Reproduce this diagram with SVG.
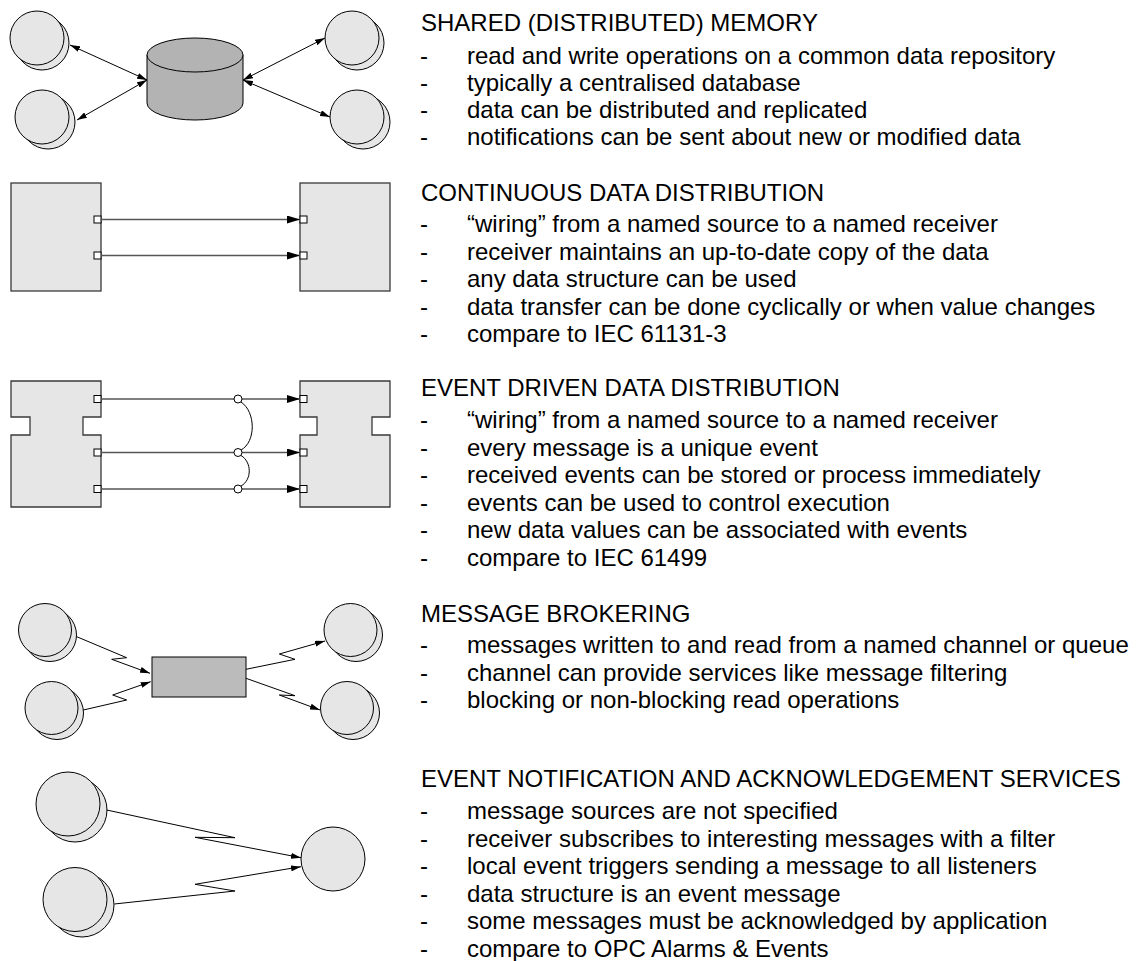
<svg xmlns="http://www.w3.org/2000/svg" width="1136" height="961" viewBox="0 0 1136 961">
  <style>
    .bg { fill: #ffffff; }
    .node { fill: #e6e6e6; stroke: #000000; stroke-width: 1; }
    .box { fill: #e6e6e6; stroke: #3a3a3a; stroke-width: 1.3; }
    .db { fill: #b3b3b3; stroke: #000000; stroke-width: 1; }
    .queue { fill: #bbbbbb; stroke: #000000; stroke-width: 1; }
    .port { fill: #ffffff; stroke: #000000; stroke-width: 1; }
    .wire { fill: none; stroke: #555555; stroke-width: 1.4; }
    .link { fill: none; stroke: #000000; stroke-width: 1; }
    .junction { fill: #ffffff; stroke: #000000; stroke-width: 1; }
    text { font-family: "Liberation Sans", Arial, sans-serif; font-size: 24px; fill: #000000; }
  </style>
  <defs>
    <marker id="tip" viewBox="0 0 10 6" refX="10" refY="3" markerWidth="10" markerHeight="6" markerUnits="userSpaceOnUse" orient="auto-start-reverse">
      <path d="M0,0 L10,3 L0,6 Z" fill="#000000"/>
    </marker>
    <marker id="tipBig" viewBox="0 0 13 8" refX="13" refY="4" markerWidth="13" markerHeight="8" markerUnits="userSpaceOnUse" orient="auto">
      <path d="M0,0 L13,4 L0,8 Z" fill="#000000"/>
    </marker>
  </defs>

  <rect class="bg" x="0" y="0" width="1136" height="961"/>

  <!-- shared memory -->
  <g id="sm-client-tl"><circle class="node" cx="42" cy="43" r="27"/><circle class="node" cx="37" cy="38" r="27"/></g>
  <g id="sm-client-bl"><circle class="node" cx="48" cy="122" r="27"/><circle class="node" cx="42" cy="117" r="27"/></g>
  <g id="sm-client-tr"><circle class="node" cx="357" cy="43" r="27"/><circle class="node" cx="352" cy="38" r="27"/></g>
  <g id="sm-client-br"><circle class="node" cx="363" cy="122" r="27"/><circle class="node" cx="357" cy="117" r="27"/></g>
  <g id="sm-database">
    <path class="db" d="M147,55 L147,103 A48,17 0 0 0 243,103 L243,55 Z"/>
    <ellipse class="db" cx="195" cy="55" rx="48" ry="17"/>
  </g>

  <!-- continuous data distribution -->
  <g id="cd-source">
    <rect class="box" x="11" y="183" width="90" height="108"/>
    <rect class="port" x="94" y="216" width="7" height="7"/>
    <rect class="port" x="94" y="252" width="7" height="7"/>
  </g>
  <g id="cd-receiver">
    <rect class="box" x="300" y="183" width="90" height="108"/>
    <rect class="port" x="300" y="216" width="7" height="7"/>
    <rect class="port" x="300" y="252" width="7" height="7"/>
  </g>

  <!-- event driven data distribution -->
  <g id="ev-source">
    <path class="box" d="M11,381 H101 V417 H83 V435 H101 V507 H11 V435 H30 V417 H11 Z"/>
    <rect class="port" x="94" y="395.5" width="7" height="7"/>
    <rect class="port" x="94" y="449" width="7" height="7"/>
    <rect class="port" x="94" y="485.5" width="7" height="7"/>
  </g>
  <g id="ev-receiver">
    <path class="box" d="M300,381 H390 V417 H372 V435 H390 V507 H300 V435 H317 V417 H300 Z"/>
    <rect class="port" x="300" y="395.5" width="7" height="7"/>
    <rect class="port" x="300" y="449" width="7" height="7"/>
    <rect class="port" x="300" y="485.5" width="7" height="7"/>
  </g>

  <!-- message brokering -->
  <g id="mb-client-tl"><circle class="node" cx="50" cy="635" r="26.5"/><circle class="node" cx="45" cy="630" r="26.5"/></g>
  <g id="mb-client-bl"><circle class="node" cx="57" cy="713" r="26.5"/><circle class="node" cx="51.5" cy="708" r="26.5"/></g>
  <g id="mb-client-tr"><circle class="node" cx="356" cy="635" r="26.5"/><circle class="node" cx="350.5" cy="630" r="26.5"/></g>
  <g id="mb-client-br"><circle class="node" cx="353" cy="713" r="26.5"/><circle class="node" cx="347" cy="708" r="26.5"/></g>
  <g id="mb-channel"><rect class="queue" x="152" y="657" width="94" height="40"/></g>

  <!-- event notification -->
  <g id="en-source-t"><circle class="node" cx="75" cy="810" r="32"/><circle class="node" cx="68" cy="804" r="32"/></g>
  <g id="en-source-b"><circle class="node" cx="82" cy="905" r="32"/><circle class="node" cx="75" cy="899.5" r="32"/></g>
  <g id="en-listener"><circle class="node" cx="333" cy="859" r="32"/></g>

  <g id="connectors">
    <!-- shared memory access -->
    <line class="link" x1="70" y1="45" x2="147" y2="80" marker-start="url(#tip)" marker-end="url(#tip)"/>
    <line class="link" x1="77" y1="120" x2="147" y2="80" marker-start="url(#tip)" marker-end="url(#tip)"/>
    <line class="link" x1="243" y1="80" x2="325" y2="38" marker-start="url(#tip)" marker-end="url(#tip)"/>
    <line class="link" x1="243" y1="80" x2="330" y2="117" marker-start="url(#tip)" marker-end="url(#tip)"/>

    <!-- data wiring -->
    <line class="wire" x1="101" y1="219.5" x2="300" y2="219.5" marker-end="url(#tipBig)"/>
    <line class="wire" x1="101" y1="255.5" x2="300" y2="255.5" marker-end="url(#tipBig)"/>

    <!-- event wiring -->
    <line class="wire" x1="101" y1="399" x2="300" y2="399" marker-end="url(#tipBig)"/>
    <line class="wire" x1="101" y1="452.5" x2="300" y2="452.5" marker-end="url(#tipBig)"/>
    <line class="wire" x1="101" y1="489" x2="300" y2="489" marker-end="url(#tipBig)"/>
    <path class="link" d="M241,402 C256,412 256,442 241,450"/>
    <path class="link" d="M241,455.5 C252,462 252,480 241,486"/>
    <circle class="junction" cx="238" cy="399" r="4"/>
    <circle class="junction" cx="238" cy="452.5" r="4"/>
    <circle class="junction" cx="238" cy="489" r="4"/>

    <!-- brokered messages -->
    <polyline class="link" points="76.7,636.7 126.7,657.7 111.7,659.3 150,673.3" marker-end="url(#tip)"/>
    <polyline class="link" points="83.3,710 126.7,700 112.7,695 150.7,681.7" marker-end="url(#tip)"/>
    <polyline class="link" points="246,669.3 295,659.3 279.3,654 325,641" marker-end="url(#tip)"/>
    <polyline class="link" points="246,678.3 295,695.7 279.3,695 320,710" marker-end="url(#tip)"/>

    <!-- notifications -->
    <polyline class="link" points="106.7,810 235,837.7 195,837.3 301,857.7" marker-end="url(#tip)"/>
    <polyline class="link" points="114.3,904 235,891 195,884.3 301,866.7" marker-end="url(#tip)"/>
  </g>

  <g id="descriptions">
    <text x="421" y="31">SHARED (DISTRIBUTED) MEMORY</text>
    <text x="420" y="63.5">-</text><text x="467" y="63.5">read and write operations on a common data repository</text>
    <text x="420" y="90.5">-</text><text x="467" y="90.5">typically a centralised database</text>
    <text x="420" y="117.5">-</text><text x="467" y="117.5">data can be distributed and replicated</text>
    <text x="420" y="144.5">-</text><text x="467" y="144.5">notifications can be sent about new or modified data</text>

    <text x="421" y="200.5">CONTINUOUS DATA DISTRIBUTION</text>
    <text x="420" y="232">-</text><text x="467" y="232">“wiring” from a named source to a named receiver</text>
    <text x="420" y="259.5">-</text><text x="467" y="259.5">receiver maintains an up-to-date copy of the data</text>
    <text x="420" y="287">-</text><text x="467" y="287">any data structure can be used</text>
    <text x="420" y="314.5">-</text><text x="467" y="314.5">data transfer can be done cyclically or when value changes</text>
    <text x="420" y="342">-</text><text x="467" y="342">compare to IEC 61131-3</text>

    <text x="421" y="396">EVENT DRIVEN DATA DISTRIBUTION</text>
    <text x="420" y="428">-</text><text x="467" y="428">“wiring” from a named source to a named receiver</text>
    <text x="420" y="455.5">-</text><text x="467" y="455.5">every message is a unique event</text>
    <text x="420" y="483">-</text><text x="467" y="483">received events can be stored or process immediately</text>
    <text x="420" y="510.5">-</text><text x="467" y="510.5">events can be used to control execution</text>
    <text x="420" y="538">-</text><text x="467" y="538">new data values can be associated with events</text>
    <text x="420" y="565.5">-</text><text x="467" y="565.5">compare to IEC 61499</text>

    <text x="421" y="621.5">MESSAGE BROKERING</text>
    <text x="420" y="653">-</text><text x="467" y="653">messages written to and read from a named channel or queue</text>
    <text x="420" y="680.5">-</text><text x="467" y="680.5">channel can provide services like message filtering</text>
    <text x="420" y="708">-</text><text x="467" y="708">blocking or non-blocking read operations</text>

    <text x="421" y="787">EVENT NOTIFICATION AND ACKNOWLEDGEMENT SERVICES</text>
    <text x="420" y="819">-</text><text x="467" y="819">message sources are not specified</text>
    <text x="420" y="846.5">-</text><text x="467" y="846.5">receiver subscribes to interesting messages with a filter</text>
    <text x="420" y="874">-</text><text x="467" y="874">local event triggers sending a message to all listeners</text>
    <text x="420" y="901.5">-</text><text x="467" y="901.5">data structure is an event message</text>
    <text x="420" y="929">-</text><text x="467" y="929">some messages must be acknowledged by application</text>
    <text x="420" y="956.5">-</text><text x="467" y="956.5">compare to OPC Alarms &amp; Events</text>
  </g>
</svg>
